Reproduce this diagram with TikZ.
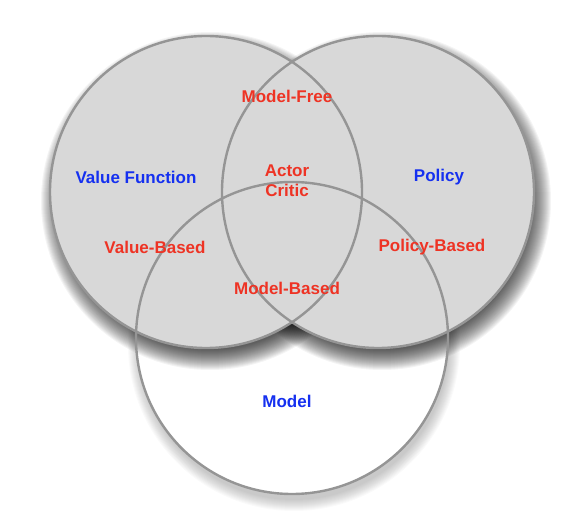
\documentclass[tikz,border=0pt]{standalone}
\usepackage{fontspec}
\setmainfont{Liberation Sans}
\usepackage{tikz}
\definecolor{ringgray}{HTML}{959595}
\definecolor{setgray}{HTML}{D8D8D8}
\definecolor{labred}{HTML}{EE3324}
\definecolor{labblue}{HTML}{1530F0}
\tikzset{
  ring/.style={draw=ringgray,line width=2.4pt},
  setlab/.style={font=\fontsize{17}{20}\selectfont\bfseries,inner sep=0pt,align=center},
  redlab/.style={setlab,text=labred},
  bluelab/.style={setlab,text=labblue},
}
\begin{document}
\begin{tikzpicture}[x=1pt,y=-1pt]
      \useasboundingbox (0,0) rectangle (579,521);
      \coordinate (vc) at (206,192);
      \coordinate (pc) at (378,192);
      \coordinate (mc) at (292,338);
      % faint shadow and white fill of the model set
      \foreach \k in {0,...,11}{
        \fill[black,opacity=.02] ([shift={(2,7)}]mc) circle[radius={(166-\k)*1pt}];
      }
      \fill[white] (mc) circle[radius=156pt];
      % shadows of the two upper sets
      \foreach \cc in {vc,pc}{
        \foreach \k in {0,...,20}{
          \fill[black,opacity=.045] ([shift={(4,9)}]\cc) circle[radius={(169-\k)*1pt}];
        }
      }
      \fill[setgray] (vc) circle[radius=156pt];
      \fill[setgray] (pc) circle[radius=156pt];
      \foreach \cc in {vc,pc,mc}{
        \draw[ring] (\cc) circle[radius=156pt];
      }
      \node[redlab] (free) at (287,96) {Model-Free};
      \node[redlab] (ac) at (287,181) {Actor\\Critic};
      \node[bluelab] (vfun) at (136,177) {Value Function};
      \node[redlab] (vbased) at (155,247) {Value-Based};
      \node[bluelab] (pol) at (439,177) {Policy};
      \node[redlab] (pbased) at (432,247) {Policy-Based};
      \node[redlab] (mbased) at (287,288) {Model-Based};
      \node[bluelab] (mod) at (287,401) {Model};
    \end{tikzpicture}
\end{document}
